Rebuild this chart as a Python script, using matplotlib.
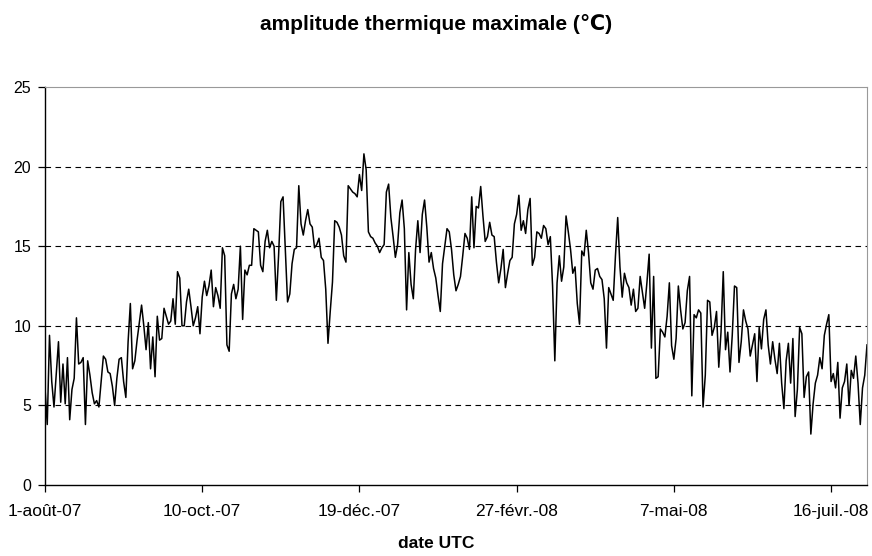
import matplotlib
matplotlib.use("Agg")
import matplotlib.pyplot as plt
import numpy as np
import pandas as pd

# daily max thermal amplitude, 1 Aug 2007 -> 31 Jul 2008
aug_sep = [6.1, 3.8, 9.4, 6.5, 4.9, 7.0, 9.0, 5.2, 7.6, 5.1, 8.0, 4.1, 6.0, 6.7, 10.5,
           7.6, 7.7, 8.0, 3.8, 7.8, 6.9, 5.8, 5.1, 5.3, 4.9, 6.5, 8.1, 7.9, 7.1, 7.0,
           6.2, 5.0, 6.7, 7.9, 8.0, 6.5, 5.5, 9.0, 11.4, 7.3, 7.8, 9.1, 10.2, 11.3]
sep_oct = [10.0, 8.5, 10.2, 7.3, 9.3, 6.8, 10.6, 9.1, 9.2, 11.1, 10.6, 10.1, 10.3, 11.7,
           10.1, 13.4, 13.0, 10.0, 10.0, 11.5, 12.3, 11.2, 10.0, 10.5, 11.2, 9.5, 11.8,
           12.8, 11.9, 12.5, 13.5, 11.2, 12.4, 11.9, 11.1, 14.9, 14.4, 8.8, 8.4, 12.0,
           12.6, 11.7, 12.3, 15.0, 10.4, 13.5, 13.2, 13.8]
nov_dec = [13.8, 16.1, 16.0, 15.9, 13.8, 13.4, 15.3, 16.0, 14.9, 15.3, 15.0, 11.6, 14.4,
           17.8, 18.1, 14.8, 11.5, 12.0, 13.9, 14.8, 14.9, 18.8, 16.4, 15.7, 16.6, 17.3,
           16.4, 16.2, 14.9, 15.1, 15.5, 14.3, 14.1, 12.3, 8.9, 10.9, 12.75, 16.6, 16.5,
           16.2, 15.7, 14.4, 14.0, 18.8, 18.6]
dec_feb = [18.4, 18.3, 18.1, 19.5, 18.5, 20.8, 19.8, 15.9, 15.6, 15.5, 15.2, 15.0, 14.6,
           14.9, 15.1, 18.4, 18.9, 16.8, 15.6, 14.3, 15.1, 17.1, 17.9, 16.1, 11.0, 14.6,
           12.6, 11.7, 14.8, 16.6, 14.6, 17.0, 17.9, 16.2, 14.0, 14.6, 13.6, 13.0, 11.9,
           10.9, 13.9, 15.0, 16.1, 15.9, 14.8]
feb_mar = [13.2, 12.2, 12.6, 13.1, 14.4, 15.8, 15.5, 14.8, 18.1, 14.9, 17.5, 17.4, 18.75,
           16.9, 15.3, 15.6, 16.5, 15.7, 15.6, 14.0, 12.7, 13.6, 14.8, 12.4, 13.3, 14.1,
           14.3, 16.4, 17.0, 18.2, 16.0, 16.6, 15.8, 17.3, 18.0, 13.8, 14.3, 15.9, 15.8,
           15.5, 16.3, 16.1, 15.1, 15.6, 12.5]
mar_apr = [7.8, 12.7, 14.4, 12.8, 13.7, 16.9, 15.9, 14.8, 13.3, 13.7, 11.4, 10.1, 14.7,
           14.4, 16.0, 14.6, 12.7, 12.3, 13.5, 13.6, 13.1, 12.9, 11.7, 8.6, 12.4, 12.0,
           11.6, 14.4, 16.8, 13.7, 11.8, 13.3, 12.7, 12.4, 11.3, 12.3, 10.9, 11.1, 13.1,
           12.1, 11.1, 12.7, 14.5]
apr_jun = [8.6, 13.1, 6.7, 6.8, 9.8, 9.6, 9.3, 10.6, 12.7, 8.75, 7.9, 9.2, 12.5, 11.0,
           9.8, 10.2, 12.2, 13.1, 5.6, 10.7, 10.5, 11.0, 10.8, 4.9, 6.9, 11.6, 11.5, 9.4,
           9.9, 10.9, 7.4, 9.6, 13.4, 8.5, 9.6, 7.1, 9.4, 12.5, 12.4, 7.7, 9.0, 11.0,
           10.3, 9.8]
jun_jul = [8.1, 8.8, 9.5, 6.5, 9.9, 8.55, 10.4, 11.0, 8.8, 7.6, 9.0, 7.9, 7.0, 8.9, 6.4,
           4.8, 7.8, 8.9, 6.4, 9.2, 4.3, 6.0, 9.9, 9.5, 5.5, 6.8, 7.1, 3.2, 5.1, 6.4, 6.9,
           8.0, 7.3, 9.4, 10.1, 10.7, 6.5, 7.0, 6.1, 7.7, 4.2, 6.1, 6.5, 7.6, 5.0, 7.2,
           6.7, 8.1, 6.4, 3.8, 6.1, 6.9, 8.8]

amplitude = aug_sep + sep_oct + nov_dec + dec_feb + feb_mar + mar_apr + apr_jun + jun_jul
dates = pd.date_range("2007-08-01", periods=len(amplitude), freq="D")

tick_dates = pd.to_datetime(["2007-08-01", "2007-10-10", "2007-12-19",
                             "2008-02-27", "2008-05-07", "2008-07-16"])
tick_labels = ["1-août-07", "10-oct.-07", "19-déc.-07", "27-févr.-08", "7-mai-08", "16-juil.-08"]
y_ticks = [0, 5, 10, 15, 20, 25]

plt.rcParams['font.family'] = ['Liberation Sans', 'DejaVu Sans']

fig = plt.figure(figsize=(8.72, 5.56), dpi=100)
ax = fig.add_axes([45/872, 71/556, 822/872, 398/556])

ax.plot(dates, amplitude, color="black", lw=1.1)

ax.set_xlim(dates[0], dates[-1])
ax.set_ylim(0, 25)
ax.set_yticks(y_ticks)
ax.set_xticks(tick_dates)
ax.set_xticklabels(tick_labels, fontsize=12.5)
for y in y_ticks[1:-1]:
    ax.axhline(y, color="black", lw=0.8, ls=(0, (5, 4)), zorder=0)

ax.tick_params(axis="both", direction="out", length=5, width=0.9)
ax.tick_params(axis="x", pad=9)
ax.tick_params(axis="y", labelsize=11.5, pad=5)
ax.spines["top"].set_color("#999999")
ax.spines["right"].set_color("#999999")
for s in ["left", "bottom"]:
    ax.spines[s].set_linewidth(1.0)

fig.text(0.5, 1 - 543/556, "date UTC", ha="center", va="center",
         fontsize=12.5, fontweight="bold")
fig.text(0.5, 1 - 24/556, "amplitude thermique maximale (℃)", ha="center", va="center",
         fontsize=15, fontweight="bold")

fig.savefig("out.png", dpi=100)
